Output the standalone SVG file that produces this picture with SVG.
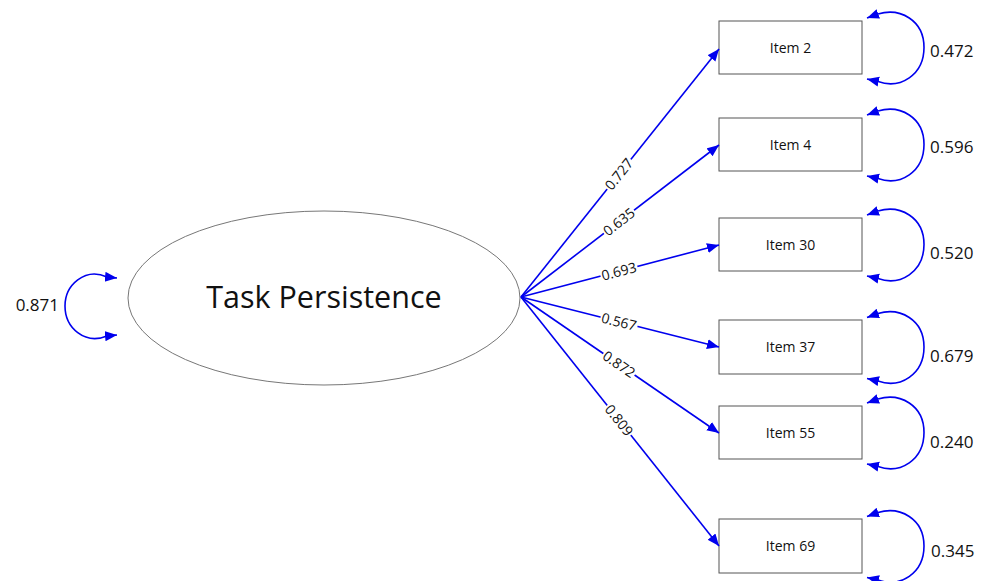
<svg xmlns="http://www.w3.org/2000/svg" width="990" height="581" viewBox="0 0 990 581">
  <style>
    .lbl { font-family: "Open Sans", "Liberation Sans", sans-serif; fill: #111; }
    .item { fill: #fff; stroke: #555; stroke-width: 1; }
    .itemtxt { font-size: 14px; text-anchor: middle; }
    .path { fill: none; stroke: #0000ee; stroke-width: 1.6; marker-end: url(#ah); }
    .loop { fill: none; stroke: #0000ee; stroke-width: 1.6; marker-start: url(#ahs); marker-end: url(#ah); }
    .coef { font-size: 14px; text-anchor: middle; }
    .var { font-size: 17px; }
  </style>
  <defs>
    <marker id="ah" markerUnits="userSpaceOnUse" markerWidth="13" markerHeight="11" refX="12" refY="5" orient="auto">
      <path d="M0,0 L12,5 L0,10 z" fill="#0000ee"/>
    </marker>
    <marker id="ahs" markerUnits="userSpaceOnUse" markerWidth="13" markerHeight="11" refX="12" refY="5" orient="auto-start-reverse">
      <path d="M0,0 L12,5 L0,10 z" fill="#0000ee"/>
    </marker>
  </defs>

  <rect width="990" height="581" fill="#fff"/>

  <!-- latent factor -->
  <g id="factor">
    <ellipse cx="324" cy="298" rx="196" ry="87" fill="#fff" stroke="#777" stroke-width="1"/>
    <text class="lbl" x="324" y="308" font-size="30.5" text-anchor="middle">Task Persistence</text>
  </g>

  <!-- indicators -->
  <g id="item2"><rect class="item" x="719" y="21" width="143" height="53"/><text class="lbl itemtxt" x="790.5" y="52.5">Item 2</text></g>
  <g id="item4"><rect class="item" x="719" y="118" width="143" height="53"/><text class="lbl itemtxt" x="790.5" y="149.5">Item 4</text></g>
  <g id="item30"><rect class="item" x="719" y="218" width="143" height="53"/><text class="lbl itemtxt" x="790.5" y="249.5">Item 30</text></g>
  <g id="item37"><rect class="item" x="719" y="320" width="143" height="54"/><text class="lbl itemtxt" x="790.5" y="352">Item 37</text></g>
  <g id="item55"><rect class="item" x="719" y="406" width="143" height="53"/><text class="lbl itemtxt" x="790.5" y="437.5">Item 55</text></g>
  <g id="item69"><rect class="item" x="719" y="519" width="143" height="54"/><text class="lbl itemtxt" x="790.5" y="551">Item 69</text></g>

  <!-- loadings, variances -->
  <g id="connectors">
    <line class="path" x1="521" y1="297" x2="719" y2="49"/>
    <line class="path" x1="521" y1="297" x2="719" y2="145"/>
    <line class="path" x1="521" y1="297" x2="719" y2="245"/>
    <line class="path" x1="521" y1="297" x2="719" y2="347"/>
    <line class="path" x1="521" y1="297" x2="719" y2="433"/>
    <line class="path" x1="521" y1="297" x2="719" y2="546"/>

    <g transform="translate(619,174.2) rotate(-51.4)"><rect x="-19" y="-7" width="38" height="14" fill="#fff"/><text class="lbl coef" y="5">0.727</text></g>
    <g transform="translate(619,221.8) rotate(-37.5)"><rect x="-19" y="-7" width="38" height="14" fill="#fff"/><text class="lbl coef" y="5">0.635</text></g>
    <g transform="translate(619,271.3) rotate(-14.7)"><rect x="-19" y="-7" width="38" height="14" fill="#fff"/><text class="lbl coef" y="5">0.693</text></g>
    <g transform="translate(619,321.8) rotate(14.2)"><rect x="-19" y="-7" width="38" height="14" fill="#fff"/><text class="lbl coef" y="5">0.567</text></g>
    <g transform="translate(619,364.3) rotate(34.5)"><rect x="-19" y="-7" width="38" height="14" fill="#fff"/><text class="lbl coef" y="5">0.872</text></g>
    <g transform="translate(619,420.3) rotate(51.5)"><rect x="-19" y="-7" width="38" height="14" fill="#fff"/><text class="lbl coef" y="5">0.809</text></g>

    <!-- factor variance -->
    <path class="loop" d="M117,278 L107,277 C85,267 65,285 65,306 C65,328 85,345 107,336 L117,335"/>
    <text class="lbl var" x="59" y="311" text-anchor="end">0.871</text>

    <!-- residual variances -->
    <path class="loop" d="M867,18 L878,14 C900,7.5 924,20 924,47.5 C924,75 900,89.5 878,81.5 L867,79"/>
    <text class="lbl var" x="930" y="57">0.472</text>
    <path class="loop" d="M867,115 L878,111 C900,104.5 924,117 924,144.5 C924,172 900,186.5 878,178.5 L867,176"/>
    <text class="lbl var" x="930" y="153">0.596</text>
    <path class="loop" d="M867,215 L878,211 C900,204.5 924,217 924,244.5 C924,272 900,286.5 878,278.5 L867,276"/>
    <text class="lbl var" x="930" y="259">0.520</text>
    <path class="loop" d="M867,317.5 L878,313.5 C900,307 924,319.5 924,347 C924,374.5 900,389 878,381 L867,378.5"/>
    <text class="lbl var" x="930" y="362">0.679</text>
    <path class="loop" d="M867,403 L878,399 C900,392.5 924,405 924,432.5 C924,460 900,474.5 878,466.5 L867,464"/>
    <text class="lbl var" x="930" y="448">0.240</text>
    <path class="loop" d="M867,516.5 L878,512.5 C900,506 924,518.5 924,546 C924,573.5 900,588 878,580 L867,577.5"/>
    <text class="lbl var" x="931" y="557">0.345</text>
  </g>
</svg>
